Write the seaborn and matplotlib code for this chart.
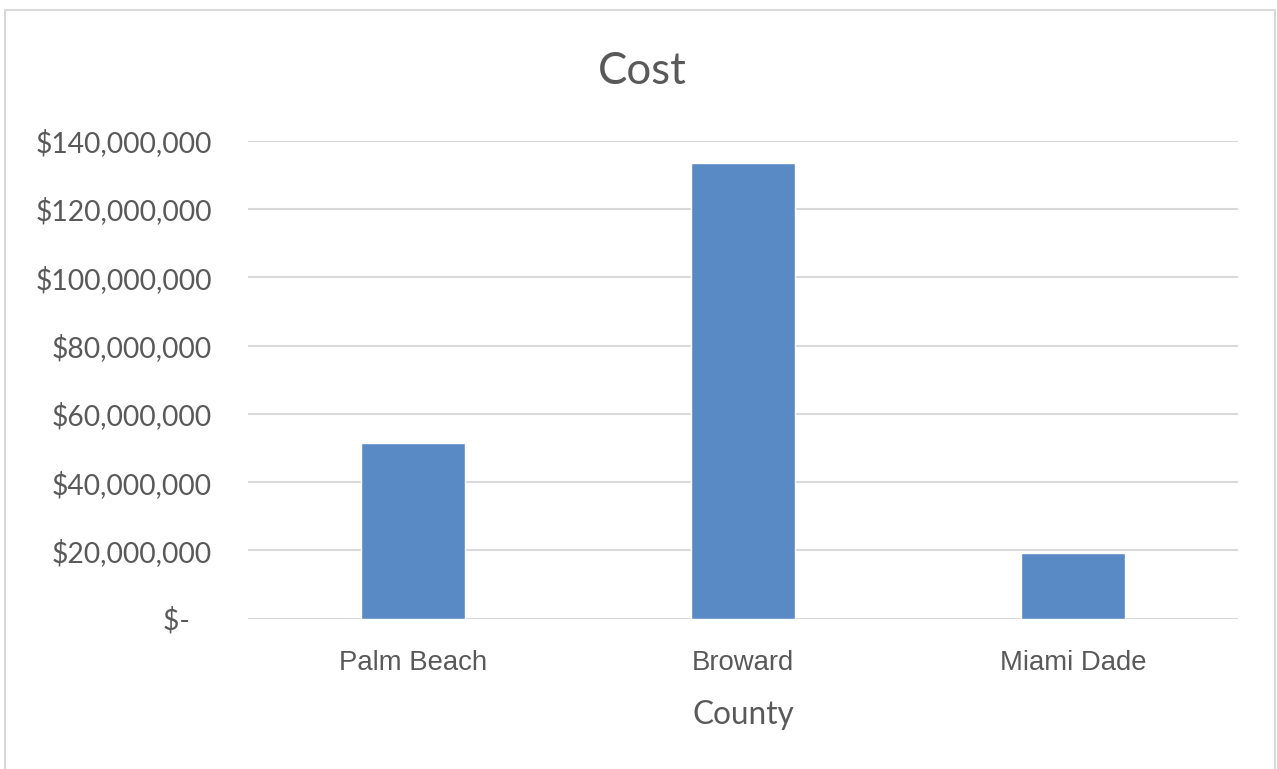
import matplotlib
matplotlib.use("Agg")
import matplotlib.pyplot as plt
import seaborn as sns
import pandas as pd
from matplotlib.patches import Rectangle
from matplotlib.ticker import FuncFormatter

counties = ["Palm Beach", "Broward", "Miami Dade"]
costs = [51_500_000, 133_400_000, 19_150_000]
yticks = [0, 20_000_000, 40_000_000, 60_000_000, 80_000_000, 100_000_000, 120_000_000, 140_000_000]

df = pd.DataFrame({"County": counties, "Cost": costs})

sns.set_style("white")
plt.rcParams['font.family'] = ['Lato', 'DejaVu Sans']

fig = plt.figure(figsize=(12.77, 7.69), dpi=100)
ax = fig.add_axes([248/1277, 1-618.7/769, (1238-248)/1277, (618.7-140.7)/769])

sns.barplot(data=df, x="County", y="Cost", color="#5A8AC5", width=0.315,
            saturation=1, ax=ax, zorder=3)

ax.set_ylim(0, 140_000_000)
ax.set_xlim(-0.5, 2.5)
ax.set_yticks(yticks)

def fmt(v, pos):
    if v == 0:
        return "$-   "
    return "${:,.0f}".format(v)

ax.yaxis.set_major_formatter(FuncFormatter(fmt))
ax.yaxis.grid(True, color="#d9d9d9", linewidth=1.5, zorder=0)
ax.set_axisbelow(True)
for s in ["top", "right", "left", "bottom"]:
    ax.spines[s].set_visible(False)
ax.tick_params(axis="y", length=0, pad=26, labelsize=20.3, labelcolor="#595959")
ax.tick_params(axis="x", length=0, pad=22.5, labelcolor="#595959")
for lbl in ax.get_xticklabels():
    lbl.set_fontfamily("Liberation Sans")
    lbl.set_fontsize(19.8)

ax.set_ylabel("")
ax.set_xlabel("County", fontsize=22.7, color="#595959", labelpad=17)

fig.text(642/1277, 1-72/769, "Cost", ha="center", va="center", fontsize=31.5, color="#595959")

fig.patches.append(Rectangle((5/1277, -0.01), (1275-5)/1277, 1-10/769+0.01,
                             transform=fig.transFigure, fill=False,
                             edgecolor="#d9d9d9", linewidth=1.5))

fig.savefig("out.png", dpi=100)
